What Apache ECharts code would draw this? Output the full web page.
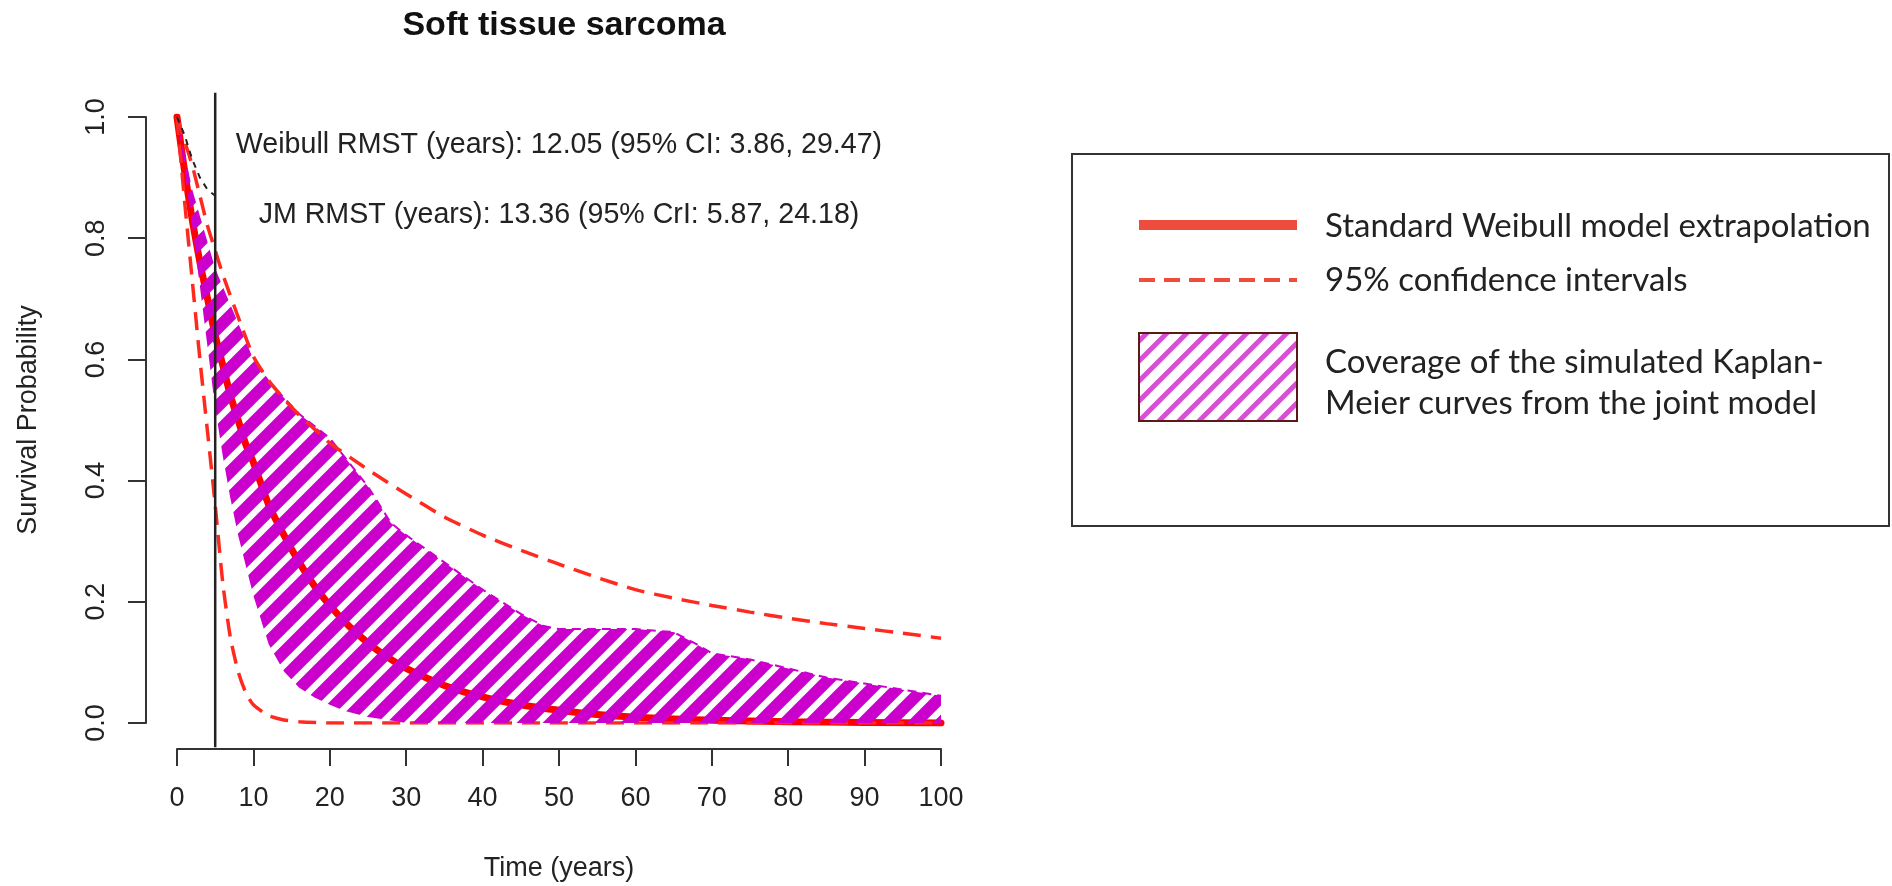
<!DOCTYPE html>
<html>
<head>
<meta charset="utf-8">
<title>Soft tissue sarcoma</title>
<script src="https://cdn.jsdelivr.net/npm/echarts@6/dist/echarts.min.js"></script>
<style>
  html, body { margin: 0; padding: 0; background: #fff; }
  #chart { width: 1892px; height: 886px; }
</style>
</head>
<body>
<div id="chart"></div>
<script>
// ---- data ----
const xTicks = [0, 10, 20, 30, 40, 50, 60, 70, 80, 90, 100]
const yTicks = [0, 0.2, 0.4, 0.6, 0.8, 1.0]

// standard weibull extrapolation (solid red)
const weibullX = [0, 1, 2, 3, 4, 5, 6, 7, 8, 9, 10, 12, 14, 16, 18, 20, 22.5, 25, 27.5, 30, 35, 40, 45, 50, 55, 60, 70, 80, 90, 100]
const weibullY = [1.00, 0.91, 0.83, 0.76, 0.70, 0.64, 0.59, 0.54, 0.50, 0.46, 0.43, 0.36, 0.31, 0.265, 0.226, 0.194, 0.16, 0.132, 0.109, 0.09, 0.062, 0.043, 0.03, 0.021, 0.014, 0.0095, 0.0045, 0.002, 0.001, 0.0]

// 95% confidence intervals (dashed red)
const ciUpX = [0, 1, 2, 3, 4, 5, 6, 8, 10, 12, 14, 16, 18, 20, 25, 30, 35, 40, 45, 50, 55, 60, 65, 70, 75, 80, 85, 90, 95, 100]
const ciUpY = [1.0, 0.96, 0.92, 0.87, 0.82, 0.78, 0.74, 0.67, 0.605, 0.565, 0.535, 0.508, 0.485, 0.462, 0.418, 0.378, 0.34, 0.31, 0.285, 0.262, 0.24, 0.22, 0.206, 0.194, 0.183, 0.173, 0.164, 0.156, 0.148, 0.14]
const ciLoX = [0, 1, 2, 3, 4, 5, 6, 7, 8, 9, 10, 12, 14, 16, 20, 30, 100]
const ciLoY = [1.0, 0.86, 0.73, 0.6, 0.48, 0.36, 0.23, 0.14, 0.085, 0.05, 0.03, 0.012, 0.005, 0.002, 0, 0, 0]

// coverage of simulated KM curves (hatched magenta band)
const bandUpX = [0, 2, 5, 8, 10, 13, 16, 20, 25, 28, 30, 35, 40, 45, 48, 50, 55, 60, 65, 68, 70, 75, 80, 85, 90, 95, 100]
const bandUpY = [1.0, 0.88, 0.75, 0.66, 0.6, 0.55, 0.51, 0.47, 0.39, 0.33, 0.31, 0.265, 0.22, 0.18, 0.16, 0.155, 0.155, 0.155, 0.15, 0.13, 0.115, 0.105, 0.09, 0.075, 0.065, 0.055, 0.045]
const bandLoX = [0, 2, 4, 5, 6, 7, 8, 10, 12, 14, 16, 18, 20, 22, 25, 28, 30, 100]
const bandLoY = [1.0, 0.82, 0.62, 0.52, 0.44, 0.37, 0.31, 0.21, 0.13, 0.085, 0.058, 0.042, 0.03, 0.02, 0.01, 0.004, 0, 0]

// observed kaplan-meier (black dashed, up to end of follow-up)
const kmX = [0, 1, 1.5, 2, 3, 4, 5]
const kmY = [1.0, 0.97, 0.95, 0.93, 0.9, 0.88, 0.87]

const followUp = 5

const rFont = "'Liberation Sans', Arial, sans-serif"
const legFont = "Lato, 'Open Sans', sans-serif"

const zip = (xs, ys) => xs.map((x, i) => [x, ys[i]])

// diagonal "/" hatch; tile holds several periods, lines run past the edges
function makeHatch(period, lineW, color) {
  let n = 4
  let size = period * n
  let c = document.createElement('canvas')
  c.width = size
  c.height = size
  let ctx = c.getContext('2d')
  ctx.strokeStyle = color
  ctx.lineWidth = lineW
  for (let k = -n - 2; k <= n + 2; k++) {
    ctx.beginPath()
    ctx.moveTo(k * period - period, size + period)
    ctx.lineTo(k * period + size + period, -period)
    ctx.stroke()
  }
  return c
}

const plotHatch = makeHatch(26, 12, '#cc00cc')
const legendHatch = makeHatch(20, 5, '#d84fd5')

let chart = echarts.init(document.getElementById('chart'), null, { renderer: 'canvas' })

let option = {
  backgroundColor: '#fff',
  animation: false,
  title: {
    text: 'Soft tissue sarcoma',
    left: 559,
    textAlign: 'center',
    top: 4,
    textStyle: { fontFamily: rFont, fontSize: 34, fontWeight: 'bold', color: '#111' }
  },
  grid: {
    left: 177,
    right: 951,
    top: 117,
    bottom: 163,
    containLabel: false,
    outerBoundsMode: 'none'
  },
  xAxis: {
    type: 'value',
    min: xTicks[0],
    max: xTicks[xTicks.length - 1],
    interval: 10,
    offset: 26,
    name: 'Time (years)',
    nameLocation: 'middle',
    nameGap: 106,
    nameTextStyle: { fontFamily: rFont, fontSize: 27, color: '#222' },
    axisLine: { show: true, onZero: false, lineStyle: { color: '#333', width: 2 } },
    axisTick: { show: true, length: 17, lineStyle: { color: '#333', width: 2 } },
    axisLabel: { fontFamily: rFont, fontSize: 27, color: '#222', margin: 36 },
    splitLine: { show: false }
  },
  yAxis: {
    type: 'value',
    min: yTicks[0],
    max: yTicks[yTicks.length - 1],
    interval: 0.2,
    offset: 31,
    name: 'Survival Probability',
    nameLocation: 'middle',
    nameGap: 104,
    nameTextStyle: { fontFamily: rFont, fontSize: 27, color: '#222' },
    axisLine: { show: true, onZero: false, lineStyle: { color: '#333', width: 2 } },
    axisTick: { show: true, length: 18, lineStyle: { color: '#333', width: 2 } },
    axisLabel: {
      fontFamily: rFont, fontSize: 27, color: '#222', margin: 36, rotate: 90,
      formatter: v => v.toFixed(1)
    },
    splitLine: { show: false }
  },
  series: [
    {
      // sits on the bottom layer so the hatch is drawn over it
      name: 'Standard Weibull model extrapolation',
      type: 'line',
      data: zip(weibullX, weibullY),
      showSymbol: false,
      smooth: 0.2,
      zlevel: 0,
      z: 2,
      lineStyle: { color: '#ff0000', width: 7, cap: 'round' }
    },
    {
      name: 'lower CI',
      type: 'line',
      data: zip(ciLoX, ciLoY),
      showSymbol: false,
      smooth: 0.2,
      zlevel: 0,
      z: 3,
      lineStyle: { color: '#ff2a1f', width: 3.5, type: [18, 10] }
    },
    {
      name: 'KM coverage',
      type: 'custom',
      data: [[0, 1]],
      encode: { x: 0, y: 1 },
      zlevel: 1,
      z: 2,
      renderItem: (params, api) => {
        let pts = []
        for (let i = 0; i < bandUpX.length; i++) pts.push(api.coord([bandUpX[i], bandUpY[i]]))
        for (let i = bandLoX.length - 1; i >= 0; i--) pts.push(api.coord([bandLoX[i], bandLoY[i]]))
        return {
          type: 'polygon',
          shape: { points: pts },
          style: { fill: { image: plotHatch, repeat: 'repeat' } }
        }
      }
    },
    {
      // dashed edge of the simulated curves
      name: 'KM edge',
      type: 'line',
      data: zip(bandUpX, bandUpY).filter(p => p[0] >= 12),
      showSymbol: false,
      zlevel: 1,
      z: 3,
      lineStyle: { color: '#cc00cc', width: 2, type: [9, 6] }
    },
    {
      name: 'upper CI',
      type: 'line',
      data: zip(ciUpX, ciUpY),
      showSymbol: false,
      smooth: 0.2,
      zlevel: 1,
      z: 4,
      lineStyle: { color: '#ff2a1f', width: 3.5, type: [18, 10] }
    },
    {
      name: 'observed KM',
      type: 'line',
      data: zip(kmX, kmY),
      showSymbol: false,
      zlevel: 1,
      z: 5,
      lineStyle: { color: '#222', width: 2, type: [6, 6] }
    },
    {
      name: 'end of follow-up',
      type: 'line',
      data: [[followUp, -0.04], [followUp, 1.04]],
      clip: false,
      showSymbol: false,
      zlevel: 1,
      z: 6,
      lineStyle: { color: '#222', width: 2.5 }
    }
  ],
  graphic: [
    {
      type: 'text', z: 10,
      style: {
        x: 559, y: 145, text: 'Weibull RMST (years): 12.05 (95% CI: 3.86, 29.47)',
        font: '28.6px ' + rFont, fill: '#222', align: 'center', verticalAlign: 'middle'
      }
    },
    {
      type: 'text', z: 10,
      style: {
        x: 559, y: 215, text: 'JM RMST (years): 13.36 (95% CrI: 5.87, 24.18)',
        font: '28.6px ' + rFont, fill: '#222', align: 'center', verticalAlign: 'middle'
      }
    },
    // legend box
    {
      type: 'rect', z: 10,
      shape: { x: 1072, y: 154, width: 817, height: 372 },
      style: { fill: '#fff', stroke: '#333', lineWidth: 2 }
    },
    {
      type: 'line', z: 11,
      shape: { x1: 1139, y1: 225, x2: 1297, y2: 225 },
      style: { stroke: '#ee4d3d', lineWidth: 10 }
    },
    {
      type: 'line', z: 11,
      shape: { x1: 1139, y1: 280, x2: 1297, y2: 280 },
      style: { stroke: '#ee4d3d', lineWidth: 4, lineDash: [16, 9] }
    },
    {
      type: 'rect', z: 11,
      shape: { x: 1139, y: 333, width: 158, height: 88 },
      style: { fill: { image: legendHatch, repeat: 'repeat' }, stroke: '#5a1a1a', lineWidth: 2 }
    },
    {
      type: 'text', z: 11,
      style: { x: 1325, y: 226, text: 'Standard Weibull model extrapolation', font: '33px ' + legFont, fill: '#222', verticalAlign: 'middle' }
    },
    {
      type: 'text', z: 11,
      style: { x: 1325, y: 280, text: '95% confidence intervals', font: '33px ' + legFont, fill: '#222', verticalAlign: 'middle' }
    },
    {
      type: 'text', z: 11,
      style: { x: 1325, y: 362, text: 'Coverage of the simulated Kaplan-', font: '33px ' + legFont, fill: '#222', verticalAlign: 'middle' }
    },
    {
      type: 'text', z: 11,
      style: { x: 1325, y: 403, text: 'Meier curves from the joint model', font: '33px ' + legFont, fill: '#222', verticalAlign: 'middle' }
    }
  ]
}

chart.setOption(option)
</script>
</body>
</html>
